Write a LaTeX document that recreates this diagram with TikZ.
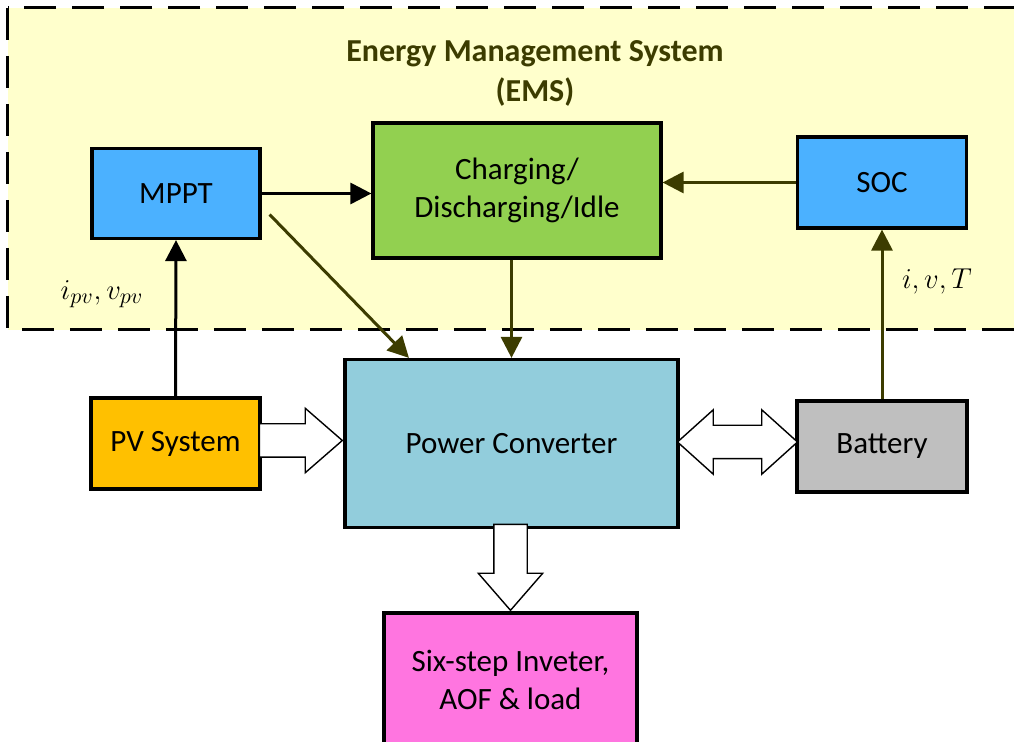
\documentclass[tikz,border=0pt]{standalone}
\usepackage{fontspec}
\setmainfont{Carlito}
\usetikzlibrary{arrows.meta,shapes.arrows,calc}

\definecolor{emsfill}{HTML}{FFFFCC}
\definecolor{emsolive}{RGB}{60,60,0}
\definecolor{ctrlblue}{HTML}{4BB1FF}
\definecolor{chggreen}{HTML}{92D050}
\definecolor{pcblue}{HTML}{92CDDC}
\definecolor{pvorange}{HTML}{FFC000}
\definecolor{batgray}{HTML}{BFBFBF}
\definecolor{loadpink}{HTML}{FF75E0}

\tikzset{
  blk/.style={draw, line width=1.6pt, inner sep=0pt, align=center,
    font=\fontsize{15.5}{19}\selectfont},
  sig/.style={line width=1.5pt, -{Triangle[length=10.5pt,width=10.5pt]}},
  fat/.style={single arrow, draw, fill=white, line width=0.7pt,
    inner xsep=0pt, inner ysep=8pt, minimum width=0pt,
    single arrow head extend=7.75pt, single arrow tip angle=82},
  fatdown/.style={fat, shape border rotate=270, inner xsep=8pt, inner ysep=0pt},
  fatboth/.style={double arrow, draw, fill=white, line width=0.7pt,
    inner xsep=0pt, inner ysep=8pt, minimum width=0pt,
    double arrow head extend=7.75pt, double arrow tip angle=84}
}

\begin{document}
\begin{tikzpicture} [x=5pt, y=-5pt]
    \useasboundingbox (0,0) rectangle (101.4,74.2);

    % EMS area
    \draw[fill=emsfill, line width=1.5pt, dash pattern=on 16pt off 8pt] (0.78,0.8) rectangle (103,33.0);
    \node[font=\bfseries\fontsize{16}{20}\selectfont, text=emsolive, align=center] (ems) at (53.5,7.35) {Energy Management System\\(EMS)};

    \node[blk, fill=ctrlblue, minimum width=84pt, minimum height=45pt] (mppt) at (17.6,19.35) {MPPT};
    \node[blk, fill=chggreen, minimum width=144pt, minimum height=67.5pt] (chg) at (51.7,19.05) {Charging/\\Discharging/Idle};
    \node[blk, fill=ctrlblue, minimum width=84.5pt, minimum height=45.5pt] (soc) at (88.2,18.25) {SOC};

    \node[blk, fill=pcblue, minimum width=166.5pt, minimum height=84pt] (pc) at (51.15,44.35) {Power Converter};
    \node[blk, fill=pvorange, minimum width=84.5pt, minimum height=45.5pt] (pv) at (17.55,44.35) {PV System};
    \node[blk, fill=batgray, minimum width=85pt, minimum height=45.5pt] (bat) at (88.2,44.65) {Battery};
    \node[blk, fill=loadpink, minimum width=126.5pt, minimum height=67pt] (load) at (51.05,68.0) {Six-step Inveter,\\AOF \& load};

    % measured signals
    \node[font=\fontsize{15.5}{19}\selectfont] (ipv) at (10.2,29.4) {$i_{pv}, v_{pv}$};
    \node[font=\fontsize{15.5}{19}\selectfont] (ivt) at (93.7,28.1) {$i, v, T$};

    \draw[sig] (pv.north) -- (mppt.south);
    \draw[sig] (mppt.east) -- (mppt.east -| chg.west);
    \coordinate (d1) at ($(mppt.east)+(0.8,2.1)$);
    \draw[sig, emsolive] (d1) -- ($(pc.north west)!0.195!(pc.north east)$);
    \draw[sig, emsolive] (chg.south -| pc.north) -- (pc.north);
    \draw[sig, emsolive] (soc.west) -- (soc.west -| chg.east);
    \draw[sig, emsolive] (bat.north) -- (soc.south);

    % power flow
    \node[fat, anchor=tip, minimum height=41.5pt] (pvpc) at ($(pc.west)+(0,-0.3)$) {};
    \node[fatboth, minimum height=60pt] (pcbat) at ($(pc.east)!0.5!(bat.west)+(0,-0.3)$) {};
    \node[fatdown, anchor=tip, minimum height=43pt] (pcload) at (load.north) {};

\end{tikzpicture}
\end{document}
